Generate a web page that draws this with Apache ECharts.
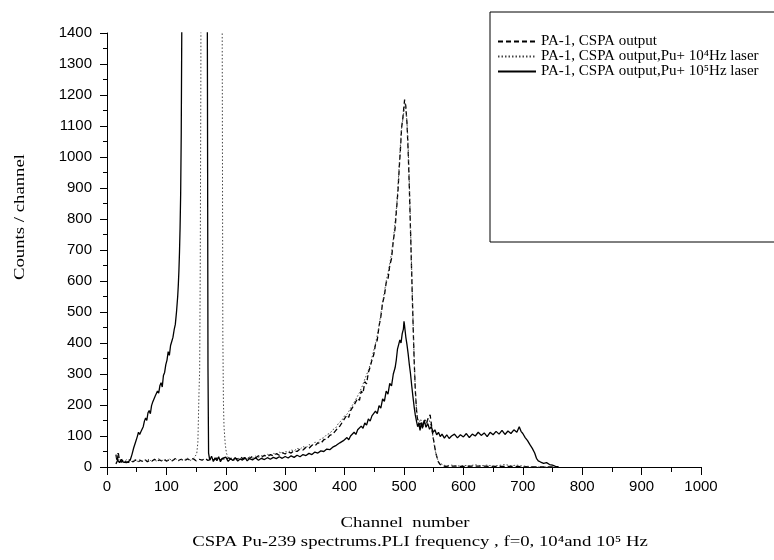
<!DOCTYPE html>
<html>
<head>
<meta charset="utf-8">
<script src="https://cdn.jsdelivr.net/npm/echarts@6/dist/echarts.min.js"></script>
<style>html,body{margin:0;padding:0;background:#fff}#c{width:774px;height:560px}</style>
</head>
<body>
<div id="c"></div>
<script>
// Tick labels
const xTicks = [0, 100, 200, 300, 400, 500, 600, 700, 800, 900, 1000];
const yTicks = [0, 100, 200, 300, 400, 500, 600, 700, 800, 900, 1000, 1100, 1200, 1300, 1400];

// Series names
const seriesNames = [
  'PA-1, CSPA output',
  'PA-1, CSPA output,Pu+ 10\u2074Hz laser',
  'PA-1, CSPA output,Pu+ 10\u2075Hz laser'
];

// [channel, counts] – f = 0 (no laser)
const noLaser = [
[15,40],[17,18],[19,46],[21,22],[24,15],[27,24],[30,17],[33,22],[36,15],[40,20],[44,17],[48,23],[52,16],[56,21],[60,18],[64,24],[68,17],[72,22],[76,19],[80,25],[84,18],[88,23],[92,20],[96,26],[100,19],[105,24],[110,20],[115,27],[120,21],[125,25],[130,19],[135,26],[140,22],[145,27],[150,20],[155,25],[160,22],[165,28],[170,21],[175,26],[180,23],[185,29],[190,22],[195,27],[200,24],[205,30],[210,23],[215,28],[220,26],[225,32],[230,25],[235,31],[240,28],[245,34],[250,29],[255,36],[260,31],[265,38],[270,33],[275,40],[280,36],[285,43],[290,38],[295,46],[300,42],[305,49],[310,45],[315,53],[320,50],[325,58],[330,55],[335,64],[340,60],[345,70],[350,68],[355,78],[360,76],[365,88],[370,90],[375,102],[380,106],[383,100],[386,120],[389,115],[392,132],[395,128],[398,150],[401,144],[404,168],[407,160],[410,182],[413,176],[416,200],[419,195],[422,222],[425,215],[428,245],[431,238],[434,275],[437,268],[440,305],[443,322],[446,345],[449,362],[452,395],[455,410],[458,455],[461,485],[464,530],[467,552],[470,595],[473,605],[476,650],[479,672],[482,730],[485,770],[488,845],[490,895],[492,965],[494,1025],[496,1095],[498,1125],[500,1165],[501,1185],[503,1165],[505,1110],[507,1020],[509,900],[511,760],[513,620],[515,480],[517,350],[519,250],[521,185],[523,150],[526,135],[529,148],[532,130],[535,152],[538,140],[541,160],[544,168],[546,140],[548,110],[550,85],[552,62],[554,42],[556,28],[558,16],[561,8],[565,4],[570,2],[580,3],[600,2],[620,3],[650,2],[680,2],[700,1],[730,0],[760,0]
];

// [channel, counts] – Pu + 10^4 Hz laser
const laser1e4 = [
[16,30],[18,45],[20,22],[23,17],[26,25],[29,16],[32,23],[35,18],[39,24],[43,15],[47,22],[51,18],[55,25],[59,17],[63,23],[67,20],[71,26],[75,18],[79,24],[83,19],[87,27],[91,20],[95,24],[100,18],[105,26],[110,21],[115,28],[120,20],[125,25],[130,22],[135,29],[140,21],[145,26],[148,30],[151,42],[153,80],[155,250],[156,310],[157,650],[158,1250],[159,2600],[161,5000],[191,5000],[193,2600],[194,1350],[195,430],[196,210],[197,130],[199,75],[201,45],[204,30],[207,24],[211,28],[215,22],[220,27],[225,24],[230,30],[235,26],[240,32],[245,28],[250,35],[255,31],[260,37],[265,34],[270,41],[275,37],[280,44],[285,40],[290,48],[295,44],[300,50],[305,47],[310,55],[315,52],[320,60],[325,57],[330,66],[335,62],[340,72],[345,70],[350,80],[355,78],[360,92],[365,94],[370,105],[375,108],[380,120],[385,126],[390,142],[395,150],[400,165],[405,172],[410,190],[415,205],[420,222],[425,240],[430,262],[435,288],[440,312],[443,330],[446,352],[449,375],[452,398],[455,425],[458,455],[461,495],[464,530],[467,565],[470,600],[473,625],[476,655],[479,690],[482,735],[485,790],[488,850],[490,910],[492,975],[494,1040],[496,1095],[498,1120],[500,1150],[502,1170],[504,1140],[506,1080],[508,980],[510,850],[512,700],[514,560],[516,420],[518,300],[520,215],[522,170],[525,140],[528,155],[531,135],[534,150],[537,138],[540,158],[543,150],[546,125],[549,95],[551,70],[553,50],[555,35],[557,22],[560,12],[563,6],[570,4],[580,6],[590,3],[600,5],[610,4],[620,7],[630,4],[640,6],[650,3],[660,5],[670,8],[680,4],[690,6],[700,3],[710,2],[720,0],[760,0]
];

// [channel, counts] – Pu + 10^5 Hz laser
const laser1e5 = [
[15,10],[18,22],[21,14],[24,25],[27,16],[30,21],[33,14],[36,19],[39,22],[42,40],[45,62],[48,80],[51,98],[53,112],[55,105],[57,114],[59,110],[61,130],[63,148],[65,158],[67,150],[69,175],[71,182],[73,172],[75,198],[77,210],[79,205],[81,228],[83,222],[85,245],[87,238],[89,262],[91,272],[93,258],[95,295],[97,305],[99,330],[101,345],[103,372],[105,360],[107,392],[109,405],[111,418],[113,442],[115,460],[117,500],[119,550],[120,585],[121,630],[122,690],[123,770],[124,880],[125,1080],[126,1450],[128,4000],[166,4000],[168,2200],[169,1350],[170,320],[171,45],[173,22],[176,35],[179,18],[182,30],[185,20],[188,33],[191,17],[194,28],[197,22],[200,32],[204,18],[208,27],[212,21],[216,30],[220,19],[224,26],[228,22],[232,31],[236,20],[240,27],[245,23],[250,30],[255,22],[260,28],[265,24],[270,30],[275,25],[280,31],[285,27],[290,33],[295,28],[300,34],[305,29],[310,36],[315,31],[320,38],[325,33],[330,40],[335,37],[340,44],[345,40],[350,48],[355,45],[360,52],[365,50],[370,58],[375,56],[380,64],[383,58],[386,70],[389,66],[392,78],[395,72],[398,85],[401,80],[404,95],[407,88],[410,100],[413,96],[416,112],[419,105],[422,120],[425,115],[428,132],[431,125],[434,142],[437,135],[440,155],[443,148],[446,165],[449,160],[452,180],[455,172],[458,198],[461,190],[464,220],[467,212],[470,245],[473,235],[476,270],[479,262],[482,300],[485,320],[487,345],[489,380],[491,395],[493,410],[495,400],[497,430],[499,445],[500,470],[501,455],[503,420],[505,395],[507,365],[509,330],[511,300],[513,262],[515,228],[517,195],[519,168],[521,148],[523,130],[525,140],[527,118],[529,142],[531,125],[534,150],[537,128],[540,140],[543,122],[546,130],[549,112],[552,120],[555,104],[558,112],[561,98],[564,106],[568,93],[572,104],[576,92],[580,100],[585,106],[590,94],[595,104],[600,97],[605,108],[610,95],[615,106],[620,100],[625,112],[630,102],[635,110],[640,98],[645,112],[650,104],[655,115],[660,106],[665,118],[670,105],[675,116],[680,108],[685,120],[690,112],[694,130],[697,115],[700,108],[704,95],[708,85],[712,72],[716,60],[720,45],[723,28],[726,20],[730,16],[735,12],[740,14],[745,8],[750,6],[755,2],[760,0]
];

const xAxisTitle = 'Channel  number';
const yAxisTitle = 'Counts / channel';
const captionText = 'CSPA Pu-239 spectrums.PLI frequency , f=0, 10\u2074and 10\u2075 Hz';

const chart = echarts.init(document.getElementById('c'), null, {renderer: 'canvas'});
const axisFont = 'Liberation Sans';
const serif = 'Liberation Serif';

chart.setOption({
  animation: false,
  backgroundColor: '#ffffff',
  grid: {left: 107, right: 73, top: 33, bottom: 93, containLabel: false},
  legend: {
    orient: 'vertical',
    left: 490,
    top: 12,
    padding: [22, 60, 163, 7],
    borderColor: '#000',
    borderWidth: 1,
    itemWidth: 38,
    itemHeight: 14,
    itemGap: 0,
    itemStyle: {opacity: 0, borderWidth: 0},
    textStyle: {fontFamily: serif, fontSize: 15, color: '#000', lineHeight: 14},
    data: seriesNames
  },
  xAxis: {
    type: 'value',
    min: xTicks[0],
    max: xTicks[xTicks.length - 1],
    interval: 100,
    axisLine: {show: true, lineStyle: {color: '#000', width: 1}},
    axisTick: {show: true, inside: false, length: 8, lineStyle: {color: '#000', width: 1}},
    minorTick: {show: true, splitNumber: 2, length: 5, lineStyle: {color: '#000', width: 1}},
    splitLine: {show: false},
    axisLabel: {fontFamily: axisFont, fontSize: 15, color: '#000', margin: 12, formatter: v => String(v)}
  },
  yAxis: {
    type: 'value',
    min: yTicks[0],
    max: yTicks[yTicks.length - 1],
    interval: 100,
    axisLine: {show: true, lineStyle: {color: '#000', width: 1}},
    axisTick: {show: true, inside: false, length: 7, lineStyle: {color: '#000', width: 1}},
    minorTick: {show: true, splitNumber: 2, length: 4, lineStyle: {color: '#000', width: 1}},
    splitLine: {show: false},
    axisLabel: {fontFamily: axisFont, fontSize: 15, color: '#000', margin: 15, formatter: v => String(v)}
  },
  graphic: [
    {type: 'text', x: 405, y: 523, scaleX: 1.25, silent: true,
     style: {text: xAxisTitle, font: '15px "Liberation Serif"', fill: '#000', align: 'center', verticalAlign: 'middle'}},
    {type: 'text', x: 420, y: 542, scaleX: 1.25, silent: true,
     style: {text: captionText, font: '15px "Liberation Serif"', fill: '#000', align: 'center', verticalAlign: 'middle'}},
    {type: 'text', x: 20, y: 217, rotation: Math.PI / 2, scaleX: 1.25, silent: true,
     style: {text: yAxisTitle, font: '15px "Liberation Serif"', fill: '#000', align: 'center', verticalAlign: 'middle'}}
  ],
  series: [
    {name: seriesNames[0], type: 'line', data: noLaser, showSymbol: false, symbol: 'none', clip: true,
     lineStyle: {color: '#000', width: 1.3, type: [5, 3]}, itemStyle: {color: '#000'}},
    {name: seriesNames[1], type: 'line', data: laser1e4, showSymbol: false, symbol: 'none', clip: true,
     lineStyle: {color: '#444', width: 1, type: [1.5, 2]}, itemStyle: {color: '#444'}},
    {name: seriesNames[2], type: 'line', data: laser1e5, showSymbol: false, symbol: 'none', clip: true,
     lineStyle: {color: '#000', width: 1.3, type: 'solid'}, itemStyle: {color: '#000'}}
  ]
});
</script>
</body>
</html>
